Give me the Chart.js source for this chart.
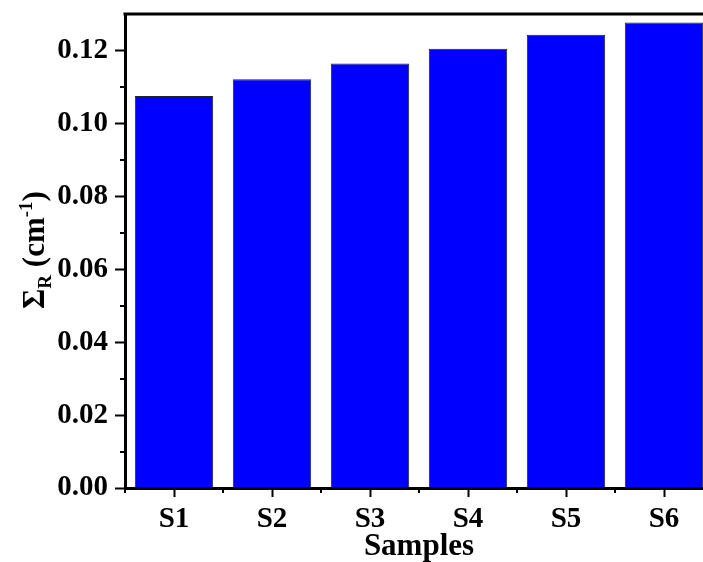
<!DOCTYPE html>
<html>
<head>
<meta charset="utf-8">
<script src="https://cdn.jsdelivr.net/npm/chart.js@4/dist/chart.umd.min.js"></script>
<style>
  html, body { margin: 0; padding: 0; overflow: hidden; background: #fff; }
  #wrap { width: 720px; height: 562px; }
</style>
</head>
<body>
<div id="wrap"><canvas id="c"></canvas></div>
<script>
// data
const samples = ['S1', 'S2', 'S3', 'S4', 'S5', 'S6'];
const sigmaR = [0.1075, 0.1121, 0.1164, 0.1205, 0.1243, 0.1277];
const yTicks = [0, 0.02, 0.04, 0.06, 0.08, 0.10, 0.12];
const yMinorTicks = [0.01, 0.03, 0.05, 0.07, 0.09, 0.11];

const FONT = '"Liberation Serif", "Times New Roman", serif';

// minor ticks, top frame line and the axis titles
const extras = {
    id: 'extras',
    afterDraw(chart) {
        const ctx = chart.ctx;
        const { left, right, top, bottom } = chart.chartArea;
        const x = chart.scales.x, y = chart.scales.y;
        ctx.save();
        ctx.strokeStyle = '#000';
        ctx.lineWidth = 2;
        ctx.beginPath();
        yMinorTicks.forEach(v => {
            const py = Math.round(y.getPixelForValue(v));
            ctx.moveTo(left - 5, py);
            ctx.lineTo(left, py);
        });
        for (let i = 0; i <= samples.length; i++) {
            const px = Math.round(x.getPixelForValue(i - 0.5));
            ctx.moveTo(px, bottom);
            ctx.lineTo(px, bottom + 5);
        }
        ctx.stroke();

        ctx.lineWidth = 3;
        ctx.beginPath();
        ctx.moveTo(left - 1.5, top);
        ctx.lineTo(right + 1.5, top);
        ctx.moveTo(right, top);
        ctx.lineTo(right, bottom);
        ctx.stroke();

        // x title
        ctx.fillStyle = '#000';
        ctx.font = 'bold 31px ' + FONT;
        ctx.textAlign = 'center';
        ctx.textBaseline = 'alphabetic';
        ctx.fillText('Samples', (left + right) / 2, 555);

        // y title: Σ_R (cm^-1)
        const parts = [
            { t: 'Σ', size: 31, dy: 0 },
            { t: 'R', size: 19, dy: 7 },
            { t: ' (cm', size: 31, dy: 0 },
            { t: '-1', size: 19, dy: -12 },
            { t: ')', size: 31, dy: 0 }
        ];
        let total = 0;
        parts.forEach(p => { ctx.font = 'bold ' + p.size + 'px ' + FONT; p.w = ctx.measureText(p.t).width; total += p.w; });
        ctx.translate(44, 250);
        ctx.rotate(-Math.PI / 2);
        ctx.textAlign = 'left';
        let cx = -total / 2;
        parts.forEach(p => {
            ctx.font = 'bold ' + p.size + 'px ' + FONT;
            ctx.fillText(p.t, cx, p.dy);
            cx += p.w;
        });
        ctx.restore();
    }
};

new Chart(document.getElementById('c'), {
    type: 'bar',
    data: {
        labels: samples,
        datasets: [{
            data: sigmaR,
            backgroundColor: '#0000FF',
            borderColor: '#222222',
            borderWidth: 1,
            barPercentage: 1,
            categoryPercentage: 0.8
        }]
    },
    options: {
        responsive: true,
        maintainAspectRatio: false,
        animation: false,
        layout: { padding: { top: 14, right: 7, left: 0, bottom: 0 } },
        plugins: { legend: { display: false }, tooltip: { enabled: false } },
        scales: {
            x: {
                afterFit(s) { s.height = 74; s.paddingLeft = 0; s.paddingRight = 0; },
                grid: { offset: false, drawOnChartArea: false, tickLength: 9, tickWidth: 2, tickColor: '#000' },
                border: { display: true, color: '#000', width: 3 },
                ticks: { color: '#000', font: { family: FONT, size: 29, weight: 'bold' }, padding: 5 }
            },
            y: {
                min: 0,
                max: 0.13,
                afterFit(s) { s.width = 125; s.paddingTop = 0; s.paddingBottom = 0; },
                afterBuildTicks(s) { s.ticks = yTicks.map(v => ({ value: v })); },
                grid: { drawOnChartArea: false, tickLength: 10, tickWidth: 2, tickColor: '#000' },
                border: { display: true, color: '#000', width: 3 },
                ticks: {
                    color: '#000',
                    font: { family: FONT, size: 29, weight: 'bold' },
                    padding: 7,
                    callback: v => v.toFixed(2)
                }
            }
        }
    },
    plugins: [extras]
});
</script>
</body>
</html>
